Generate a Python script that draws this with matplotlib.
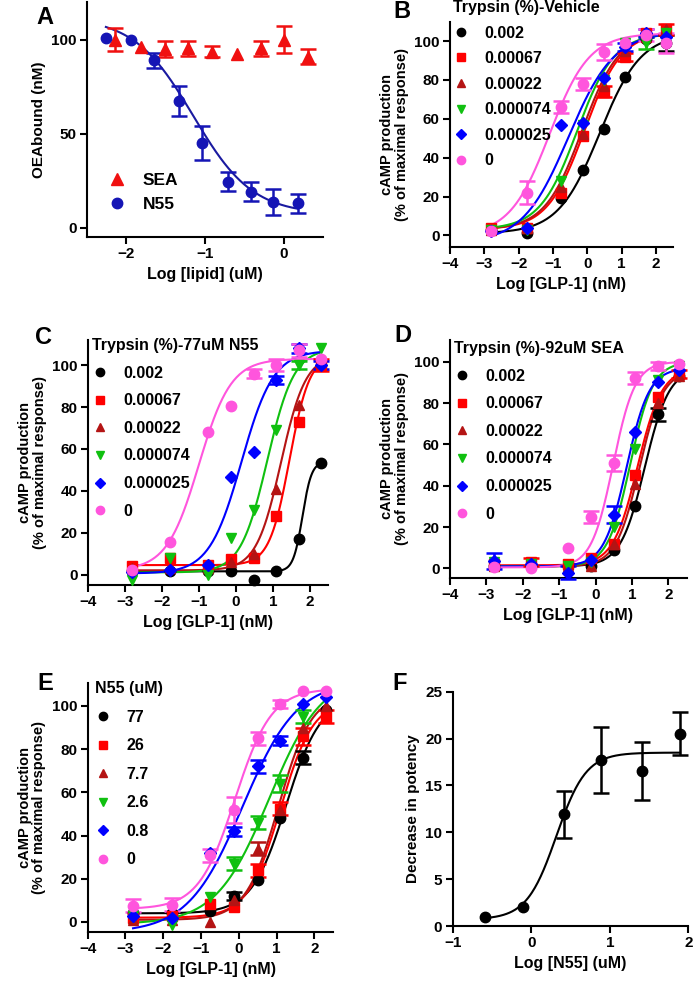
import numpy as np
import matplotlib
matplotlib.use("Agg")
import matplotlib.pyplot as plt

plt.rcParams['font.family'] = ['Liberation Sans', 'DejaVu Sans']
plt.rcParams['font.weight'] = 'bold'
plt.rcParams['axes.labelweight'] = 'bold'
plt.rcParams['axes.linewidth'] = 1.5
plt.rcParams['xtick.major.width'] = 1.5
plt.rcParams['ytick.major.width'] = 1.5
plt.rcParams['xtick.major.size'] = 5
plt.rcParams['ytick.major.size'] = 5
plt.rcParams['xtick.labelsize'] = 11
plt.rcParams['ytick.labelsize'] = 11
plt.rcParams['axes.labelsize'] = 11.5

W, H = 693, 989

# ---- panel A: OEA binding vs lipid
sea_x = [-2.14, -1.81, -1.51, -1.22, -0.91, -0.59, -0.29, 0.0, 0.31]
sea_y = [100, 96, 95, 95.5, 93.5, 92.5, 95.5, 100, 91]
sea_err = [6, 0, 4, 4, 3, 0, 4, 7, 4]
n55_x = [-2.26, -1.94, -1.65, -1.33, -1.04, -0.71, -0.42, -0.13, 0.18]
n55_y = [101, 100, 89, 67.5, 45, 24.5, 19, 13.5, 13]
n55_err = [0, 0, 4, 8, 9, 5, 5, 7, 5]
n55_fit = (7, 112, -1.15, -1.15)  # bottom, top, logIC50, hill

# ---- GLP-1 dose response panels (B-E)
glp_x = [-2.8, -1.77, -0.76, -0.13, 0.5, 1.09, 1.7, 2.3]
trypsin_labels = ['0.002', '0.00067', '0.00022', '0.000074', '0.000025', '0']
n55_labels = ['77', '26', '7.7', '2.6', '0.8', '0']
colors = ['black', '#FF0000', '#B41414', '#10C010', '#0000FF', '#FF55DD']
markers = ['o', 's', '^', 'v', 'D', 'o']

b_resp = [
    [3, 1, 19, 33.5, 54.5, 81.5, 101, 99],
    [4, 4, 22, 51, 74, 92, 104, 106],
    [3, 4, 25, 52, 77, 95, 102, 106],
    [3, 3, 28, 57, 80, 99, 99, 104],
    [2, 4, 57, 58, 81, 97, 104, 102],
    [2, 22, 66, 78, 94.5, 99, 103, 99],
]
b_err = [
    [0, 0, 0, 0, 0, 0, 0, 4],
    [0, 0, 0, 0, 3, 2, 0, 3],
    [0, 0, 0, 0, 0, 0, 0, 0],
    [0, 0, 0, 0, 0, 0, 3, 0],
    [0, 0, 0, 0, 0, 2, 2, 0],
    [0, 6, 3, 3, 4, 0, 3, 5],
]
b_fit = [(1, 104, 0.36, 0.72), (3, 105, -0.08, 0.8), (3, 105, -0.15, 0.8),
         (3, 104, -0.3, 0.8), (-4, 105, -0.55, 0.65), (0, 104, -1.1, 0.75)]

c_resp = [
    [1.5, 1.5, 1.5, 1.5, -2.5, 1.5, 17, 53.5],
    [4, 8, 4.5, 7.5, 8, 28, 73, 100],
    [3, 3, 3, 6, 10, 41, 81, 102],
    [-2.5, 8, 0, 17.5, 31, 69, 100, 108],
    [1, 2, 4.5, 46.5, 58.5, 93, 108, 100],
    [2, 15.5, 68, 80.5, 96, 100, 107, 103],
]
c_err = [
    [0, 0, 0, 0, 0, 0, 0, 0],
    [0, 0, 0, 0, 0, 0, 0, 3],
    [0, 0, 0, 0, 0, 0, 0, 0],
    [0, 0, 0, 0, 0, 0, 2, 0],
    [0, 0, 0, 0, 0, 2, 2, 2],
    [0, 0, 0, 0, 2, 3, 3, 0],
]
c_fit = [(1.5, 54, 1.8, 3.5), (4.5, 105, 1.45, 1.6), (2, 105, 1.22, 1.3),
         (1, 108, 0.85, 1.2), (0.5, 107, 0.15, 1.0), (2, 103, -1.0, 1.0)]

d_resp = [
    [1, 1, 1, 1, 9, 30, 74.5, 93],
    [2, 3, 2, 5, 12, 45, 83, 94],
    [1, 2, 1, 1, 12, 41, 80, 93],
    [3, 2, 1, 3, 20, 58, 91, 98],
    [3.5, 2, -2, 4, 26, 66, 90, 96],
    [0.5, 0, 10, 25, 51, 92, 98, 99],
]
d_err = [
    [0, 0, 0, 0, 0, 0, 3, 0],
    [0, 2, 0, 0, 0, 0, 0, 2],
    [0, 0, 0, 0, 0, 0, 0, 0],
    [0, 0, 0, 0, 0, 0, 0, 0],
    [4, 0, 3, 0, 4, 0, 0, 0],
    [0, 0, 0, 3, 4, 3, 2, 0],
]
d_fit = [(1, 97, 1.35, 1.3), (1.5, 97, 1.15, 1.3), (1, 96, 1.2, 1.35),
         (1, 100, 0.95, 1.4), (1, 97, 0.85, 1.4), (0.5, 100, 0.48, 1.45)]

e_resp = [
    [4, 4, 5, 12, 19.5, 48, 76, 98],
    [2, 3, 8.5, 7, 24, 52.5, 86, 95],
    [1, 1, 0, 10, 34, 52, 90, 100],
    [3, -1.5, 11.5, 27, 46, 64, 95, 105],
    [3, 2, 32, 42, 72, 84, 101, 104],
    [7.5, 8, 31, 52, 85, 101, 107, 107],
]
e_err = [
    [0, 0, 0, 2, 0, 0, 3, 0],
    [0, 0, 0, 0, 3, 3, 4, 3],
    [0, 0, 0, 0, 3, 0, 0, 0],
    [0, 0, 0, 3, 3, 4, 3, 0],
    [0, 0, 0, 2, 3, 2, 0, 0],
    [3, 3, 3, 6, 3, 2, 0, 0],
]
e_fit = [(4, 104, 1.25, 0.95), (2, 103, 1.1, 1.0), (1, 106, 1.05, 1.0),
         (-1, 115, 0.8, 0.62), (-5, 112, 0.1, 0.6), (6, 108, -0.1, 0.9)]

# ---- panel F: potency shift vs N55
f_x = [-0.59, -0.11, 0.42, 0.89, 1.41, 1.89]
f_y = [0.95, 2.05, 11.9, 17.7, 16.5, 20.5]
f_err = [0, 0, 2.5, 3.5, 3.1, 2.3]
f_fit = (0.7, 18.5, 0.32, 2.3)


def logistic(x, bottom, top, logec, hill):
    return bottom + (top - bottom) / (1 + 10 ** (hill * (logec - x)))


def rect(l, t, r, b):
    return [l / W, 1 - b / H, (r - l) / W, (b - t) / H]


def style(ax):
    for s in ['top', 'right']:
        ax.spines[s].set_visible(False)
    ax.tick_params(direction='out', pad=2.5)


def points(ax, x, y, err, color, marker, ms, label=None):
    x, y, err = np.array(x), np.array(y), np.array(err)
    m = err > 0
    if m.any():
        ax.errorbar(x[m], y[m], yerr=err[m], fmt='none', ecolor=color,
                    elinewidth=1.8, capsize=5.5, capthick=1.8, clip_on=False, zorder=3)
    h, = ax.plot(x, y, ls='none', marker=marker, color=color, ms=ms,
                 clip_on=False, label=label, zorder=4)
    return h


fig = plt.figure(figsize=(W / 100, H / 100), dpi=100)

# A
ax = fig.add_axes(rect(87, 2, 323, 237))
style(ax)
xs = np.linspace(min(n55_x), max(n55_x), 200)
ax.plot(xs, logistic(xs, *n55_fit), color='#1a1aa0', lw=1.5, zorder=2)
hs = points(ax, sea_x, sea_y, sea_err, '#F01010', '^', 8.5, 'SEA')
hn = points(ax, n55_x, n55_y, n55_err, '#1515B5', 'o', 7.5, 'N55')
ax.set_xlim(-2.5, 0.5)
ax.set_ylim(-5, 120)
ax.set_xticks([-2, -1, 0])
ax.set_yticks([0, 50, 100])
ax.set_xlabel('Log [lipid] (uM)')
ax.set_ylabel('OEAbound (nM)', fontsize=11)
ax.legend(handles=[hs, hn], loc='upper left', bbox_to_anchor=(108 / W, 1 - 173 / H),
          bbox_transform=fig.transFigure, frameon=False, borderpad=0, borderaxespad=0,
          handlelength=1.0, handletextpad=1.0, labelspacing=0.52, fontsize=12.5)


def glp_panel(box, resp, err, fits, labels, title, anchor, spacing, ylim):
    ax = fig.add_axes(rect(*box))
    style(ax)
    xs = np.linspace(min(glp_x), max(glp_x), 200)
    handles = []
    for i in range(6):
        ax.plot(xs, logistic(xs, *fits[i]), color=colors[i], lw=1.5, zorder=2)
        ms = 6.5 if markers[i] in ('s', 'D') else 7.5
        handles.append(points(ax, glp_x, resp[i], err[i], colors[i], markers[i], ms, labels[i]))
    ax.set_xlim(-4, 2.5)
    ax.set_ylim(*ylim)
    ax.set_xticks([-4, -3, -2, -1, 0, 1, 2])
    ax.set_yticks([0, 20, 40, 60, 80, 100])
    ax.set_xlabel('Log [GLP-1] (nM)')
    ax.set_ylabel('cAMP production\n(% of maximal response)', linespacing=1.05, fontsize=10.5)
    ax.legend(handles=handles, title=title, loc='upper left',
              bbox_to_anchor=(anchor[0] / W, 1 - anchor[1] / H),
              bbox_transform=fig.transFigure, frameon=False, borderpad=0,
              borderaxespad=0, handlelength=0.95, handletextpad=1.0,
              labelspacing=spacing, fontsize=11.5, markerscale=0.8,
              title_fontproperties={'weight': 'bold', 'size': 11.5},
              alignment='left')
    return ax


glp_panel((450, 21.7, 673, 247), b_resp, b_err, b_fit, trypsin_labels,
          'Trypsin (%)-Vehicle', (453, 0), 0.66, (-6, 110))
glp_panel((88, 340, 328.3, 585), c_resp, c_err, c_fit, trypsin_labels,
          'Trypsin (%)-77uM N55', (92, 338), 0.79, (-5, 112))
glp_panel((450, 340, 686.7, 577.7), d_resp, d_err, d_fit, trypsin_labels,
          'Trypsin (%)-92uM SEA', (454, 341), 0.79, (-4.5, 110.5))
glp_panel((87.7, 683.3, 333.3, 931.7), e_resp, e_err, e_fit, n55_labels,
          'N55 (uM)', (95, 681), 0.85, (-4.5, 110.5))

# F
ax = fig.add_axes(rect(452.7, 691.7, 688.3, 926))
style(ax)
xs = np.linspace(min(f_x), max(f_x), 200)
ax.plot(xs, logistic(xs, *f_fit), color='black', lw=1.5, zorder=2)
points(ax, f_x, f_y, f_err, 'black', 'o', 7.5)
ax.set_xlim(-1, 2)
ax.set_ylim(0, 25)
ax.set_xticks([-1, 0, 1, 2])
ax.set_yticks([0, 5, 10, 15, 20, 25])
ax.set_xlabel('Log [N55] (uM)')
ax.set_ylabel('Decrease in potency', fontsize=11)

for letter, (px, py) in zip('ABCDEF', [(45, 18), (402, 12), (43, 338), (403, 335), (45, 683), (400, 683)]):
    fig.text(px / W, 1 - py / H, letter, fontsize=17, fontweight='bold', ha='center', va='center')

fig.savefig('out.png', dpi=100)
